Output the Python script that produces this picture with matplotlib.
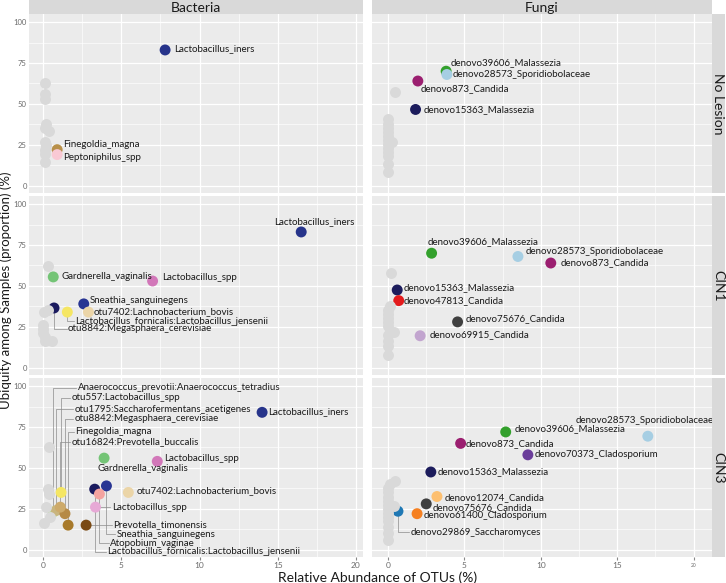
import numpy as np
import matplotlib.pyplot as plt

plt.rcParams['font.family'] = ['Lato', 'DejaVu Sans']

W, H = 726, 583

# ---- data: (name, x, y, colour) per panel ----
# No Lesion / Bacteria
nl_bac_names = ["Lactobacillus_iners", "Finegoldia_magna", "Peptoniphilus_spp"]
nl_bac_x = [7.8, 0.9, 0.9]
nl_bac_y = [83, 22, 19]
nl_bac_col = ["#27348B", "#B8904A", "#F9C9D4"]
nl_bac_gx = [0.15, 0.1, 0.1, 0.2, 0.1, 0.4, 0.1, 0.2, 0.1, 0.15, 0.15]
nl_bac_gy = [62.5, 56, 53, 38, 35, 33.7, 27, 25, 22, 19.6, 14.7]

# No Lesion / Fungi
nl_fun_names = ["denovo39606_Malassezia", "denovo28573_Sporidiobolaceae",
                "denovo873_Candida", "denovo15363_Malassezia"]
nl_fun_x = [3.8, 3.85, 1.95, 1.8]
nl_fun_y = [70, 68, 64, 46.6]
nl_fun_col = ["#33A02C", "#A6CEE3", "#9B1F70", "#1C1C5C"]
nl_fun_gx = [0.45, 0.0, 0.0, 0.0, 0.0, 0.0, 0.25, 0.0, 0.0, 0.0, 0.0, 0.0, 0.0, 0.0]
nl_fun_gy = [57, 40.5, 38, 35.5, 33, 30.5, 27, 28, 25.5, 23, 20.5, 18, 13, 8.6]

# CIN1 / Bacteria
c1_bac_names = ["Lactobacillus_iners", "Gardnerella_vaginalis", "Lactobacillus_spp",
                "Sneathia_sanguinegens", "otu7402:Lachnobacterium_bovis",
                "Lactobacillus_fornicalis:Lactobacillus_jensenii",
                "otu8842:Megasphaera_cerevisiae"]
c1_bac_x = [16.5, 0.65, 7.0, 2.6, 2.9, 1.55, 0.7]
c1_bac_y = [83, 55.5, 53, 39, 34, 34, 36.5]
c1_bac_col = ["#27348B", "#74C476", "#D277B9", "#283593", "#EBD5A8", "#F5E663", "#1A1A5E"]
c1_bac_gx = [0.3, 0.3, 0.05, 0.0, 0.0, 0.0, 0.13, 0.6, 0.1]
c1_bac_gy = [62, 35.4, 34, 26, 23.5, 21, 16, 16, 19]

# CIN1 / Fungi
c1_fun_names = ["denovo39606_Malassezia", "denovo28573_Sporidiobolaceae",
                "denovo873_Candida", "denovo15363_Malassezia", "denovo47813_Candida",
                "denovo75676_Candida", "denovo69915_Candida"]
c1_fun_x = [2.85, 8.5, 10.65, 0.6, 0.7, 4.55, 2.1]
c1_fun_y = [70, 68, 64, 47.5, 41, 28, 19.5]
c1_fun_col = ["#33A02C", "#A6CEE3", "#9B1F70", "#1C1C5C", "#E31A1C", "#404040", "#C2A5CF"]
c1_fun_gx = [0.2, 0.13, 0.0, 0.0, 0.0, 0.0, 0.0, 0.4, 0.0, 0.0, 0.0, 0.0]
c1_fun_gy = [58, 38, 35.5, 33, 30.5, 28, 25.5, 22, 20, 16.5, 13, 8]

# CIN3 / Bacteria
c3_bac_names = ["Lactobacillus_iners", "Gardnerella_vaginalis", "Lactobacillus_spp",
                "otu7402:Lachnobacterium_bovis", "Sneathia_sanguinegens",
                "Lactobacillus_fornicalis:Lactobacillus_jensenii", "Atopobium_vaginae",
                "Lactobacillus_spp", "Prevotella_timonensis", "otu557:Lactobacillus_spp",
                "Anaerococcus_prevotii:Anaerococcus_tetradius",
                "otu1795:Saccharofermentans_acetigenes", "otu8842:Megasphaera_cerevisiae",
                "Finegoldia_magna", "otu16824:Prevotella_buccalis"]
c3_bac_x = [14.0, 3.9, 7.3, 5.45, 4.05, 3.3, 3.6, 3.35, 2.75, 1.15, 0.65, 0.85, 1.4, 1.6, 1.1]
c3_bac_y = [84, 56, 54, 35, 39, 37, 34, 26, 15, 35, 23, 24, 22, 15, 26]
c3_bac_col = ["#27348B", "#74C476", "#D277B9", "#EBD5A8", "#283593", "#1A1A5E", "#F4A3A0",
              "#E7A9D6", "#7A4A14", "#F5E663", "#B5E08E", "#C9B57E", "#B68A45", "#A87A2A",
              "#CDAA6A"]
c3_bac_gx = [0.4, 0.3, 0.4, 0.2, 0.45, 0.05]
c3_bac_gy = [63, 37, 34, 26, 20, 16]

# CIN3 / Fungi
c3_fun_names = ["denovo28573_Sporidiobolaceae", "denovo39606_Malassezia", "denovo873_Candida",
                "denovo70373_Cladosporium", "denovo15363_Malassezia", "denovo12074_Candida",
                "denovo75676_Candida", "denovo61400_Cladosporium", "denovo29869_Saccharomyces"]
c3_fun_x = [17.0, 7.7, 4.75, 9.15, 2.8, 3.2, 2.5, 1.9, 0.65]
c3_fun_y = [69.4, 72, 65, 58, 47.5, 32.5, 28, 22, 23.5]
c3_fun_col = ["#A6CEE3", "#33A02C", "#9B1F70", "#6A3D9A", "#1C1C5C", "#FDBF6F", "#404040",
              "#F58021", "#1F78B4"]
c3_fun_gx = [0.45, 0.15, 0.0, 0.0, 0.0, 0.0, 0.4, 0.0, 0.0, 0.0, 0.0, 0.0, 0.0, 0.0, 0.0]
c3_fun_gy = [42, 40, 37.5, 35, 32.5, 30, 27, 27.5, 25, 22.5, 20, 17.5, 14, 10, 6]

# ---- label layout (text left x, text y, leader style) ----
nl_bac_lab = [(8.35, 84, None), (1.3, 25, None), (1.3, 17, None)]
nl_fun_lab = [(4.1, 75, None), (4.25, 68, None), (2.1, 59.5, None), (2.35, 46.6, None)]
c1_bac_lab = [(14.8, 89.6, None), (1.15, 55.5, None), (7.6, 55, None), (3.0, 41, None),
              (3.25, 34, None), (2.05, 28.5, "L"), (1.6, 23.8, "L")]
c1_fun_lab = [(2.6, 77, None), (9.0, 71, None), (11.3, 64, None), (1.05, 49, None),
              (1.05, 41, None), (5.1, 30, None), (2.7, 20, None)]
c3_bac_lab = [(14.4, 84.5, None), (3.5, 49.4, None), (7.75, 55.6, None), (6.0, 36, None),
              (4.7, 9.3, "L"), (4.1, -1.4, "L"), (4.3, 4.0, "L"), (4.4, 26, "L"),
              (4.5, 15, "L"), (1.85, 93, "L"), (2.2, 99, "L"), (2.0, 86, "L"),
              (2.0, 80, "L"), (2.05, 72, "L"), (1.85, 66, "L")]
c3_fun_lab = [(12.3, 79, None), (8.3, 74, None), (5.1, 65, None), (9.6, 58, None),
              (3.25, 47.5, None), (3.7, 32, None), (2.9, 26, None), (2.3, 20.6, None),
              (1.45, 10.6, "L")]

panels = [
    [(nl_bac_names, nl_bac_x, nl_bac_y, nl_bac_col, nl_bac_gx, nl_bac_gy, nl_bac_lab),
     (nl_fun_names, nl_fun_x, nl_fun_y, nl_fun_col, nl_fun_gx, nl_fun_gy, nl_fun_lab)],
    [(c1_bac_names, c1_bac_x, c1_bac_y, c1_bac_col, c1_bac_gx, c1_bac_gy, c1_bac_lab),
     (c1_fun_names, c1_fun_x, c1_fun_y, c1_fun_col, c1_fun_gx, c1_fun_gy, c1_fun_lab)],
    [(c3_bac_names, c3_bac_x, c3_bac_y, c3_bac_col, c3_bac_gx, c3_bac_gy, c3_bac_lab),
     (c3_fun_names, c3_fun_x, c3_fun_y, c3_fun_col, c3_fun_gx, c3_fun_gy, c3_fun_lab)],
]
col_titles = ["Bacteria", "Fungi"]
row_titles = ["No Lesion", "CIN1", "CIN3"]

cols_px = [(29, 363), (372, 712)]
rows_px = [(14, 193), (196, 375), (378, 557)]
xlims = [(-0.9, 20.45), (-1.05, 21.2)]


def rect(x0, y0, x1, y1):
    return [x0 / W, 1 - y1 / H, (x1 - x0) / W, (y1 - y0) / H]


fig = plt.figure(figsize=(W / 100, H / 100), dpi=100)
fig.patch.set_facecolor("white")

for r in range(3):
    for c in range(2):
        names, xs, ys, cols, gx, gy, labs = panels[r][c]
        ax = fig.add_axes(rect(cols_px[c][0], rows_px[r][0], cols_px[c][1], rows_px[r][1]))
        ax.set_facecolor("#EBEBEB")
        for s in ax.spines.values():
            s.set_visible(False)
        ax.set_xlim(*xlims[c])
        ax.set_ylim(-4.5, 105)
        ax.set_xticks([0, 5, 10, 15, 20])
        ax.set_xticks([2.5, 7.5, 12.5, 17.5], minor=True)
        ax.set_yticks([0, 25, 50, 75, 100])
        ax.set_yticks([12.5, 37.5, 62.5, 87.5], minor=True)
        ax.grid(True, which="major", color="white", lw=0.9)
        ax.grid(True, which="minor", color="white", lw=0.45)
        ax.set_axisbelow(True)
        ax.tick_params(which="both", length=0)
        ax.tick_params(which="major", length=2, color="#888888", labelsize=5.5, labelcolor="#6b6b6b", pad=2)
        if c == 0:
            ax.set_yticklabels(["0", "25", "50", "75", "100"])
            ax.tick_params(axis="y", which="major", length=0, pad=1.5)
        else:
            ax.tick_params(axis="y", which="major", length=0, labelleft=False)
        if r == 2:
            ax.tick_params(axis="x", labelsize=6, pad=1.5)
            if c == 1:
                ax.set_xticklabels(["0", "5", "10", "15", ""])
                ax.text(20, -0.035, "20", transform=ax.get_xaxis_transform(), fontsize=3.5,
                        color="#6b6b6b", ha="center", va="top")
            else:
                ax.set_xticklabels(["0", "5", "10", "15", "20"])
        else:
            ax.tick_params(axis="x", which="major", length=0, labelbottom=False)

        # coloured points, then grey points on top
        ax.scatter(xs, ys, s=62, c=cols, linewidths=0, zorder=3)
        ax.scatter(gx, gy, s=62, c="#D9D9D9", linewidths=0, zorder=4)

        for (name, px, py), (lx, ly, lead) in zip(zip(names, xs, ys), labs):
            ax.text(lx, ly, name, fontsize=7, color="#1a1a1a", ha="left", va="center", zorder=6)
            if lead == "L":
                ax.plot([px, px, lx - 0.1], [py, ly, ly], color="#8c8c8c", lw=0.5, zorder=2)

        if r == 0:
            sax = fig.add_axes(rect(cols_px[c][0], 0, cols_px[c][1], 14))
            sax.set_facecolor("#D9D9D9")
            sax.set_xticks([])
            sax.set_yticks([])
            for s in sax.spines.values():
                s.set_visible(False)
            sax.text(0.5, 0.45, col_titles[c], ha="center", va="center", fontsize=10,
                     color="#1a1a1a", transform=sax.transAxes)
        if c == 1:
            sax = fig.add_axes(rect(712, rows_px[r][0], 725, rows_px[r][1]))
            sax.set_facecolor("#D9D9D9")
            sax.set_xticks([])
            sax.set_yticks([])
            for s in sax.spines.values():
                s.set_visible(False)
            sax.text(0.5, 0.5, row_titles[r], ha="center", va="center", fontsize=10,
                     color="#1a1a1a", rotation=270, transform=sax.transAxes)

fig.text(6 / W, 1 - 290 / H, "Ubiquity among Samples (proportion) (%)", rotation=90,
         ha="center", va="center", fontsize=9.5, color="#1a1a1a")
fig.text(378 / W, 1 - 577.5 / H, "Relative Abundance of OTUs (%)", ha="center", va="center",
         fontsize=10, color="#1a1a1a")

fig.savefig("out.png", dpi=100)
